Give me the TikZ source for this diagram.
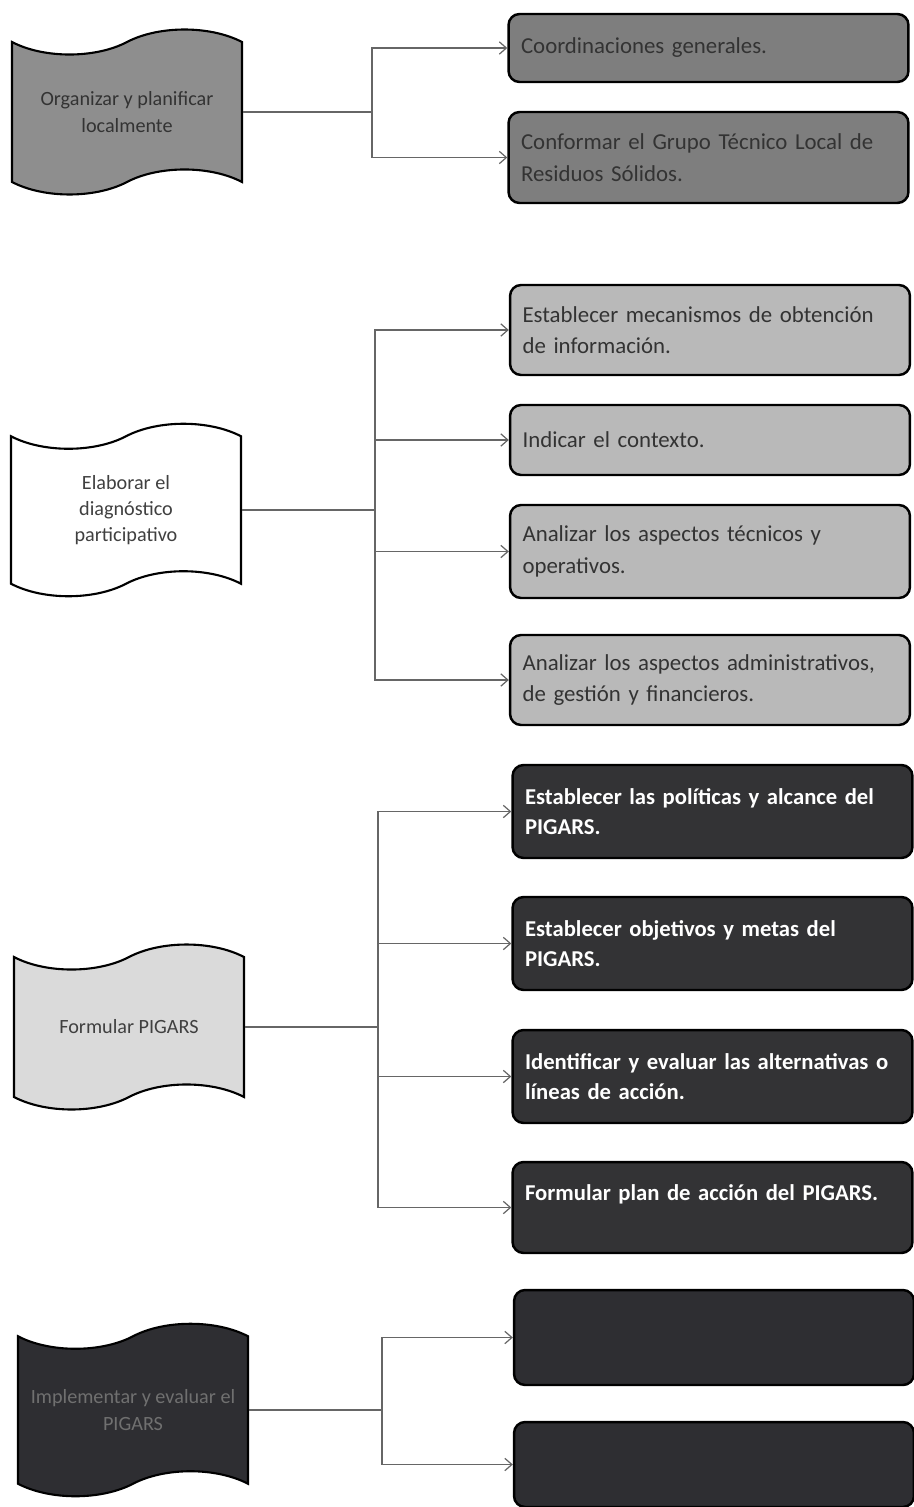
\documentclass[tikz,border=0pt]{standalone}
\usepackage{fontspec}
\setmainfont{Carlito}
\usetikzlibrary{shapes.symbols,arrows.meta}

\hyphenpenalty=10000
\exhyphenpenalty=10000

\definecolor{grayone}{HTML}{7E7E7E}
\definecolor{wavegray}{HTML}{8E8E8E}
\definecolor{graytwo}{HTML}{B9B9B9}
\definecolor{graythree}{HTML}{333335}
\definecolor{wavelight}{HTML}{DADADA}
\definecolor{grayfour}{HTML}{2E2E32}
\definecolor{dimtext}{HTML}{707070}

\begin{document}
\begin{tikzpicture}[x=0.02cm,y=-0.02cm,
    flag/.style={tape, draw=black, line width=1.2pt, minimum width=4.6cm,
      minimum height=3.3cm, tape bend height=0.5cm, align=center,
      font=\fontsize{11.5}{15}\selectfont},
    task/.style={draw=black, line width=1.4pt, rounded corners=0.22cm,
      text width=7.5cm, inner xsep=0.25cm, align=left,
      font=\fontsize{13}{18}\selectfont},
    boldtask/.style={task, text=white, font=\fontsize{12.9}{17.5}\selectfont\bfseries},
    link/.style={draw=black!60, line width=0.7pt},
    arr/.style={link, -{Straight Barb[length=4pt,width=7pt]}}]

    % Frame
    \useasboundingbox (0,0) rectangle (913,1507);

    % Stage 1
    \node[flag, fill=wavegray, text=black!80] (w1) at (127,112)
      {Organizar y planificar\\localmente};
    \node[task, fill=grayone, text=black!80, minimum height=1.36cm] (a1) at (708.5,48)
      {Coordinaciones generales.};
    \node[task, fill=grayone, text=black!80, minimum height=1.82cm] (a2) at (708.5,157.5)
      {Conformar el Grupo Técnico Local de Residuos Sólidos.};

    % Stage 2
    \node[flag, fill=white, text=black!75, minimum height=3.45cm] (w2) at (126,510)
      {Elaborar el\\diagnóstico\\participativo};
    \node[task, fill=graytwo, text=black!80, minimum height=1.8cm] (b1) at (710,330)
      {Establecer mecanismos de obtención de información.};
    \node[task, fill=graytwo, text=black!80, minimum height=1.4cm] (b2) at (710,440)
      {Indicar el contexto.};
    \node[task, fill=graytwo, text=black!80, minimum height=1.86cm] (b3) at (710,551.5)
      {Analizar los aspectos técnicos y operativos.};
    \node[task, fill=graytwo, text=black!80, minimum height=1.8cm] (b4) at (710,680)
      {Analizar los aspectos administrativos, de gestión y financieros.};

    % Stage 3
    \node[flag, fill=wavelight, text=black!75] (w3) at (129,1027)
      {Formular PIGARS};
    \node[boldtask, fill=graythree, minimum height=1.86cm] (c1) at (712.5,811.5)
      {Establecer las políticas y alcance del PIGARS.};
    \node[boldtask, fill=graythree, minimum height=1.86cm] (c2) at (712.5,943.5)
      {Establecer objetivos y metas del PIGARS.};
    \node[boldtask, fill=graythree, minimum height=1.86cm] (c3) at (712.5,1076.5)
      {Identificar y evaluar las alternativas o líneas de acción.};
    \node[boldtask, fill=graythree, minimum height=1.82cm] (c4) at (712.5,1207.5)
      {Formular plan de acción del PIGARS.\\\mbox{}};

    % Stage 4
    \node[flag, fill=grayfour, text=dimtext, minimum height=3.45cm] (w4) at (133,1410)
      {Implementar y evaluar el\\PIGARS};
    \node[task, fill=grayfour, minimum height=1.9cm] (d1) at (714,1337.5) {};
    \node[task, fill=grayfour, minimum height=1.7cm] (d2) at (714,1464.5) {};

    % Branch points
    \coordinate (j1) at (372,112);
    \coordinate (j2) at (375,510);
    \coordinate (j3) at (378,1027);
    \coordinate (j4) at (382,1410);

    % Connectors
    \draw[link] (w1.east) -- (j1);
    \draw[arr] (j1) |- (a1.west);
    \draw[arr] (j1) |- (a2.west);

    \draw[link] (w2.east) -- (j2);
    \draw[arr] (j2) |- (b1.west);
    \draw[arr] (j2) |- (b2.west);
    \draw[arr] (j2) |- (b3.west);
    \draw[arr] (j2) |- (b4.west);

    \draw[link] (w3.east) -- (j3);
    \draw[arr] (j3) |- (c1.west);
    \draw[arr] (j3) |- (c2.west);
    \draw[arr] (j3) |- (c3.west);
    \draw[arr] (j3) |- (c4.west);

    \draw[link] (w4.east) -- (j4);
    \draw[arr] (j4) |- (d1.west);
    \draw[arr] (j4) |- (d2.west);
\end{tikzpicture}
\end{document}
